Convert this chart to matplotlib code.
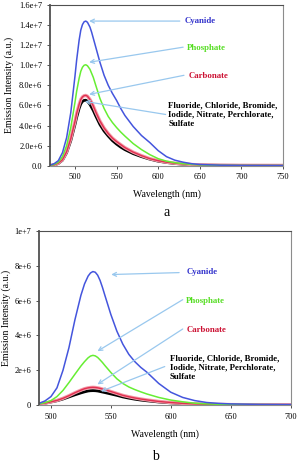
import matplotlib
matplotlib.use("Agg")
import matplotlib.pyplot as plt

plt.rcParams["font.family"] = ["Liberation Serif", "DejaVu Serif"]

# ---- panel a data (intensity in units of 1e6) ----
wl_a = [470, 475, 480, 485, 490, 495, 500, 502, 505, 507, 509, 511, 513, 515, 518, 520, 522,
        525, 530, 535, 540, 545, 550, 555, 560, 570, 580, 590, 600, 610, 620, 630, 640, 650,
        675, 700, 750]
cyanide_a = [0.05, 0.2, 0.5, 1.3, 2.8, 5.3, 8.9, 10.5, 12.5, 13.5, 14.05, 14.33, 14.4, 14.28,
             13.8, 13.3, 12.7, 11.8, 10.3, 9.0, 8.0, 7.2, 6.5, 5.7, 5.0, 3.9, 3.0, 2.3, 1.5,
             0.9, 0.55, 0.35, 0.2, 0.12, 0.05, 0.03, 0.02]
phosphate_a = [0.03, 0.12, 0.35, 0.9, 2.0, 3.8, 6.3, 7.4, 8.7, 9.4, 9.8, 10.0, 10.05, 9.95,
               9.6, 9.2, 8.8, 8.0, 6.7, 5.7, 4.9, 4.3, 3.8, 3.35, 2.95, 2.2, 1.6, 1.1, 0.7,
               0.45, 0.3, 0.2, 0.13, 0.08, 0.04, 0.03, 0.02]
carbonate_a = [0.02, 0.08, 0.25, 0.6, 1.4, 2.7, 4.4, 5.2, 6.1, 6.6, 6.85, 6.97, 7.0, 6.92,
               6.6, 6.3, 5.95, 5.35, 4.45, 3.75, 3.2, 2.75, 2.4, 2.1, 1.8, 1.35, 1.0, 0.7, 0.5,
               0.35, 0.25, 0.18, 0.12, 0.08, 0.05, 0.04, 0.03]
others_a = [0.02, 0.07, 0.22, 0.55, 1.3, 2.5, 4.1, 4.8, 5.7, 6.15, 6.4, 6.5, 6.52, 6.42,
            6.1, 5.8, 5.5, 4.95, 4.1, 3.45, 2.95, 2.5, 2.15, 1.85, 1.6, 1.2, 0.9, 0.65, 0.45,
            0.32, 0.22, 0.15, 0.1, 0.07, 0.04, 0.03, 0.02]
yticks_a = [0, 2e6, 4e6, 6e6, 8e6, 10e6, 12e6, 14e6, 16e6]
ylabels_a = ["0.0", "2.0e+6", "4.0e+6", "6.0e+6", "8.0e+6", "1.0e+7", "1.2e+7", "1.4e+7", "1.6e+7"]
xticks_a = [500, 550, 600, 650, 700, 750]

# ---- panel b data (intensity in units of 1e6) ----
wl_b = [490, 495, 500, 505, 510, 515, 520, 525, 528, 531, 533, 535, 537, 539, 541, 543, 545,
        550, 555, 560, 565, 570, 575, 580, 590, 600, 610, 620, 630, 640, 650, 675, 700]
cyanide_b = [0.11, 0.25, 0.5, 1.0, 2.0, 3.3, 4.9, 6.3, 6.95, 7.4, 7.58, 7.66, 7.62, 7.45,
             7.15, 6.75, 6.3, 5.2, 4.25, 3.5, 2.92, 2.5, 2.17, 1.9, 1.25, 0.75, 0.45, 0.27,
             0.16, 0.11, 0.08, 0.05, 0.04]
phosphate_b = [0.08, 0.15, 0.27, 0.5, 0.85, 1.3, 1.78, 2.25, 2.5, 2.72, 2.82, 2.86, 2.83,
               2.74, 2.6, 2.45, 2.28, 1.88, 1.52, 1.25, 1.05, 0.9, 0.77, 0.65, 0.45, 0.3,
               0.2, 0.12, 0.08, 0.06, 0.05, 0.04, 0.03]
carbonate_b = [0.08, 0.12, 0.2, 0.28, 0.4, 0.55, 0.72, 0.87, 0.95, 1.0, 1.02, 1.03, 1.02,
               1.0, 0.97, 0.93, 0.89, 0.79, 0.68, 0.57, 0.49, 0.42, 0.36, 0.31, 0.22, 0.16,
               0.11, 0.08, 0.06, 0.05, 0.04, 0.03, 0.03]
others_b = [0.08, 0.12, 0.19, 0.26, 0.36, 0.48, 0.6, 0.71, 0.77, 0.82, 0.835, 0.84, 0.835,
            0.82, 0.79, 0.76, 0.73, 0.65, 0.57, 0.48, 0.41, 0.35, 0.3, 0.26, 0.19, 0.14,
            0.1, 0.07, 0.05, 0.04, 0.035, 0.03, 0.03]
yticks_b = [0, 2e6, 4e6, 6e6, 8e6, 10e6]
ylabels_b = ["0", "2e+6", "4e+6", "6e+6", "8e+6", "1e+7"]
xticks_b = [500, 550, 600, 650, 700]

BLUE = "#4455dd"
GREEN = "#66ee33"
RED = "#e03050"
PINK = "#f49aa8"
ARROW = "#99c8ee"
SPINE = "#8c8c8c"
DARK_SPINE = "#505050"
OTHERS_TEXT = "Fluoride, Chloride, Bromide,\nIodide, Nitrate, Perchlorate,\nSulfate"


def scale(vals):
    return [v * 1e6 for v in vals]


def draw_panel(ax, wl, cy, ph, ca, ot, xlim, ylim, xticks, yticks, ylabels, ylab_x):
    ax.plot(wl, scale(ot), color="black", lw=2.0)
    ax.plot(wl, scale(ca), color=PINK, lw=2.4)
    ax.plot(wl, scale(ca), color=RED, lw=1.0)
    ax.plot(wl, scale(ph), color=GREEN, lw=1.1)
    ax.plot(wl, scale(cy), color=BLUE, lw=1.1)
    ax.set_xlim(*xlim)
    ax.set_ylim(*ylim)
    ax.set_xticks(xticks)
    ax.set_yticks(yticks)
    ax.set_yticklabels(ylabels)
    for sp in ax.spines.values():
        sp.set_color(SPINE)
        sp.set_linewidth(0.8)
    ax.spines["left"].set_color(DARK_SPINE)
    ax.spines["left"].set_linewidth(1.3)
    ax.spines["top"].set_color(DARK_SPINE)
    ax.tick_params(labelsize=6, length=2.5, width=0.7, color=DARK_SPINE, pad=3)
    ax.set_xlabel("Wavelength (nm)", fontsize=7, labelpad=6)
    ax.set_ylabel("Emission Intensity (a.u.)", fontsize=7)
    ax.yaxis.set_label_coords(ylab_x, 0.5)


def arrow(ax, head, tail):
    ax.annotate("", xy=head, xytext=tail,
                arrowprops=dict(arrowstyle="->", color=ARROW, lw=0.9,
                                shrinkA=0, shrinkB=0, mutation_scale=7))


fig = plt.figure(figsize=(2.99, 4.63), dpi=100)

# panel a
ax1 = fig.add_axes([50 / 299, 1 - 165.7 / 463, 233 / 299, 160.7 / 463])
draw_panel(ax1, wl_a, cyanide_a, phosphate_a, carbonate_a, others_a,
           (470, 750), (0, 1.6e7), xticks_a, yticks_a, ylabels_a, -0.155)
arrow(ax1, (517, 1.44e7), (626, 1.44e7))
arrow(ax1, (517, 1.03e7), (630, 1.18e7))
arrow(ax1, (517, 7.1e6), (631, 9.0e6))
arrow(ax1, (512, 6.4e6), (609, 5.1e6))
kw = dict(fontsize=6.3, fontweight="bold", va="center", ha="left")
ax1.text(632, 1.44e7, "Cyanide", color="#3333cc", **kw)
ax1.text(635, 1.17e7, "Phosphate", color="#55dd22", **kw)
ax1.text(636, 8.9e6, "Carbonate", color="#cc1133", **kw)
ax1.text(612, 5.1e6, OTHERS_TEXT, color="black", linespacing=1.2, **kw)
fig.text(167 / 299, 1 - 213 / 463, "a", fontsize=10, ha="center", va="center")

# panel b
ax2 = fig.add_axes([39 / 299, 1 - 405.3 / 463, 251.5 / 299, 174.6 / 463])
draw_panel(ax2, wl_b, cyanide_b, phosphate_b, carbonate_b, others_b,
           (490, 700), (0, 1e7), xticks_b, yticks_b, ylabels_b, -0.11)
arrow(ax2, (550.3, 7.49e6), (607, 7.6e6))
arrow(ax2, (538.8, 3.1e6), (610, 6.05e6))
arrow(ax2, (538.8, 1.2e6), (610, 4.37e6))
arrow(ax2, (541.7, 0.8e6), (595, 2.22e6))
ax2.text(613, 7.62e6, "Cyanide", color="#3333cc", **kw)
ax2.text(613, 5.95e6, "Phosphate", color="#55dd22", **kw)
ax2.text(613, 4.29e6, "Carbonate", color="#cc1133", **kw)
ax2.text(599, 2.16e6, OTHERS_TEXT, color="black", linespacing=1.2, **kw)
fig.text(155 / 299, 1 - 457 / 463, "b", fontsize=10, ha="center", va="center")

fig.savefig("out.png", dpi=100)
